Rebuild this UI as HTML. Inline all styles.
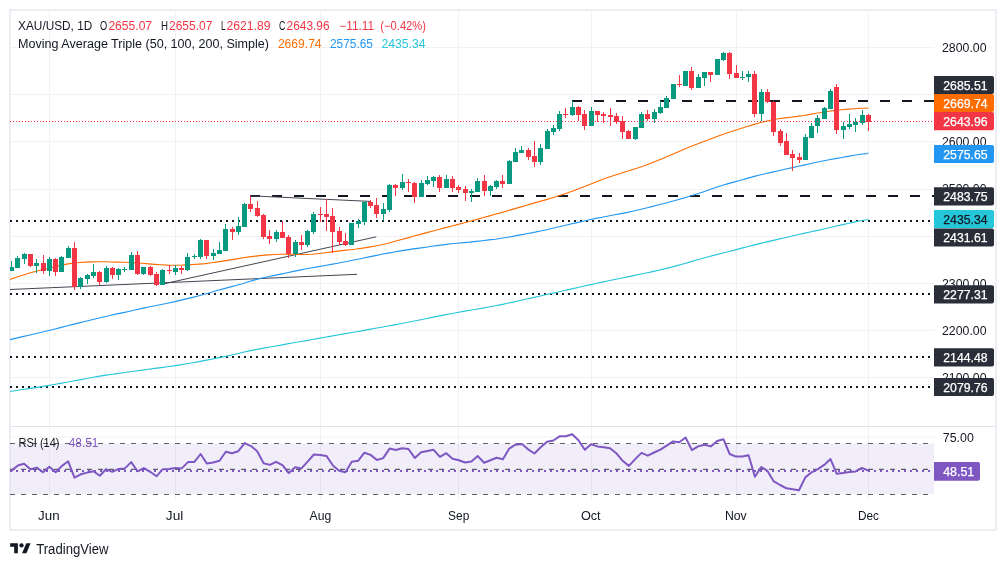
<!DOCTYPE html>
<html><head><meta charset="utf-8"><title>XAU/USD chart</title>
<style>html,body{margin:0;padding:0;background:#fff}svg{display:block}</style></head>
<body>
<svg width="1006" height="567" viewBox="0 0 1006 567" font-family='"Liberation Sans", sans-serif'>
<rect width="1006" height="567" fill="#fff"/>
<defs><clipPath id="cm"><rect x="10" y="10" width="924" height="416.5"/></clipPath><clipPath id="cr"><rect x="10" y="427" width="924" height="73"/></clipPath></defs>
<line x1="49.5" y1="11" x2="49.5" y2="500" stroke="#f2f2f5" stroke-width="1"/>
<line x1="175.5" y1="11" x2="175.5" y2="500" stroke="#f2f2f5" stroke-width="1"/>
<line x1="320.5" y1="11" x2="320.5" y2="500" stroke="#f2f2f5" stroke-width="1"/>
<line x1="458.5" y1="11" x2="458.5" y2="500" stroke="#f2f2f5" stroke-width="1"/>
<line x1="591.5" y1="11" x2="591.5" y2="500" stroke="#f2f2f5" stroke-width="1"/>
<line x1="736.5" y1="11" x2="736.5" y2="500" stroke="#f2f2f5" stroke-width="1"/>
<line x1="868.5" y1="11" x2="868.5" y2="500" stroke="#f2f2f5" stroke-width="1"/>
<line x1="11" y1="47.5" x2="934" y2="47.5" stroke="#f2f2f5" stroke-width="1"/>
<line x1="11" y1="94.5" x2="934" y2="94.5" stroke="#f2f2f5" stroke-width="1"/>
<line x1="11" y1="141.5" x2="934" y2="141.5" stroke="#f2f2f5" stroke-width="1"/>
<line x1="11" y1="189.5" x2="934" y2="189.5" stroke="#f2f2f5" stroke-width="1"/>
<line x1="11" y1="236.5" x2="934" y2="236.5" stroke="#f2f2f5" stroke-width="1"/>
<line x1="11" y1="283.5" x2="934" y2="283.5" stroke="#f2f2f5" stroke-width="1"/>
<line x1="11" y1="330.5" x2="934" y2="330.5" stroke="#f2f2f5" stroke-width="1"/>
<line x1="11" y1="377.5" x2="934" y2="377.5" stroke="#f2f2f5" stroke-width="1"/>
<line x1="11" y1="437" x2="934" y2="437" stroke="#f2f2f5" stroke-width="1"/>
<rect x="10" y="10" width="986" height="520" fill="none" stroke="#eceef4" stroke-width="2"/>
<line x1="10" y1="426.5" x2="995" y2="426.5" stroke="#e0e3eb" stroke-width="1"/>
<rect x="10" y="443.4" width="924" height="50.9" fill="#7e57c2" fill-opacity="0.1"/>
<g clip-path="url(#cm)">
<line x1="250" y1="196" x2="934" y2="196" stroke="#131722" stroke-width="2" stroke-dasharray="10 12"/>
<line x1="572" y1="101" x2="934" y2="101" stroke="#131722" stroke-width="2" stroke-dasharray="10 12"/>
<line x1="10" y1="221" x2="934" y2="221" stroke="#131722" stroke-width="2" stroke-dasharray="2 4"/>
<line x1="10" y1="294" x2="934" y2="294" stroke="#131722" stroke-width="2" stroke-dasharray="2 4"/>
<line x1="10" y1="357" x2="934" y2="357" stroke="#131722" stroke-width="2" stroke-dasharray="2 4"/>
<line x1="10" y1="387" x2="934" y2="387" stroke="#131722" stroke-width="2" stroke-dasharray="2 4"/>
<line x1="10" y1="289.5" x2="357" y2="274.3" stroke="#434651" stroke-width="1"/>
<line x1="163" y1="284" x2="376.3" y2="236.8" stroke="#434651" stroke-width="1"/>
<line x1="250.3" y1="195.8" x2="370.4" y2="201.4" stroke="#434651" stroke-width="1"/>
<polyline points="10.0,391.5 16.3,390.5 22.6,389.5 28.9,388.6 35.2,387.6 41.5,386.6 47.8,385.6 54.1,384.5 60.4,383.4 66.7,382.2 73.0,381.0 79.3,379.9 85.6,378.7 91.9,377.5 98.2,376.4 104.5,375.4 110.8,374.5 117.1,373.6 123.4,372.7 129.7,371.8 136.0,371.0 142.3,370.1 148.6,369.2 154.9,368.4 161.2,367.6 167.5,366.7 173.8,365.9 180.1,364.9 186.4,363.8 192.7,362.7 199.0,361.6 205.3,360.4 211.6,359.2 217.9,357.9 224.2,356.6 230.5,355.2 236.8,353.7 243.1,352.3 249.4,350.9 255.7,349.6 262.0,348.4 268.3,347.3 274.6,346.2 280.9,345.1 287.2,343.9 293.5,342.8 299.8,341.7 306.1,340.6 312.4,339.5 318.7,338.4 325.0,337.3 331.3,336.1 337.6,335.0 343.9,333.9 350.2,332.8 356.5,331.7 362.8,330.6 369.1,329.4 375.4,328.3 381.7,327.2 388.0,326.0 394.3,324.9 400.6,323.7 406.9,322.5 413.2,321.2 419.5,320.0 425.8,318.7 432.1,317.4 438.4,316.1 444.7,314.9 451.0,313.7 457.3,312.5 463.6,311.4 469.9,310.3 476.2,309.2 482.5,308.1 488.8,307.0 495.1,305.8 501.4,304.6 507.7,303.3 514.0,301.9 520.3,300.5 526.6,299.0 532.9,297.6 539.2,296.2 545.5,294.8 551.8,293.4 558.1,292.0 564.4,290.5 570.7,289.1 577.0,287.7 583.3,286.3 589.6,284.9 595.9,283.5 602.2,282.1 608.5,280.8 614.8,279.5 621.1,278.2 627.4,276.9 633.7,275.6 640.0,274.3 646.3,273.0 652.6,271.6 658.9,270.2 665.2,268.6 671.5,267.1 677.8,265.4 684.1,263.7 690.4,261.9 696.7,260.0 703.0,258.2 709.3,256.5 715.6,254.9 721.9,253.3 728.2,251.7 734.5,250.1 740.8,248.4 747.1,246.7 753.4,245.1 759.7,243.6 766.0,242.1 772.3,240.6 778.6,239.1 784.9,237.7 791.2,236.3 797.5,234.8 803.8,233.4 810.1,232.0 816.4,230.6 822.7,229.2 829.0,227.7 835.3,226.3 841.6,224.9 847.9,223.5 854.2,222.1 860.5,220.8 866.8,219.7 868.4,219.0" fill="none" stroke="#26c6da" stroke-width="1.1" stroke-linejoin="round"/>
<polyline points="10.0,339.6 16.3,338.1 22.6,336.6 28.9,335.2 35.2,333.7 41.5,332.2 47.8,330.7 54.1,329.2 60.4,327.6 66.7,326.0 73.0,324.4 79.3,322.9 85.6,321.3 91.9,319.7 98.2,318.2 104.5,316.7 110.8,315.3 117.1,313.9 123.4,312.6 129.7,311.2 136.0,309.8 142.3,308.4 148.6,307.0 154.9,305.7 161.2,304.5 167.5,303.2 173.8,301.9 180.1,300.4 186.4,298.9 192.7,297.4 199.0,295.7 205.3,294.0 211.6,292.2 217.9,290.3 224.2,288.6 230.5,286.9 236.8,285.3 243.1,283.5 249.4,281.5 255.7,279.6 262.0,278.0 268.3,276.7 274.6,275.4 280.9,274.1 287.2,272.8 293.5,271.4 299.8,270.1 306.1,268.8 312.4,267.7 318.7,266.6 325.0,265.5 331.3,264.4 337.6,263.2 343.9,262.0 350.2,260.8 356.5,259.5 362.8,258.2 369.1,256.9 375.4,255.6 381.7,254.3 388.0,253.1 394.3,252.0 400.6,250.9 406.9,249.9 413.2,248.9 419.5,248.1 425.8,247.2 432.1,246.3 438.4,245.4 444.7,244.6 451.0,243.8 457.3,243.2 463.6,242.6 469.9,242.1 476.2,241.4 482.5,240.7 488.8,239.9 495.1,239.2 501.4,238.3 507.7,237.3 514.0,236.1 520.3,234.9 526.6,233.7 532.9,232.6 539.2,231.3 545.5,230.0 551.8,228.5 558.1,227.0 564.4,225.5 570.7,224.0 577.0,222.6 583.3,221.2 589.6,219.8 595.9,218.4 602.2,217.2 608.5,216.0 614.8,214.8 621.1,213.6 627.4,212.4 633.7,211.0 640.0,209.5 646.3,208.0 652.6,206.4 658.9,204.8 665.2,203.2 671.5,201.5 677.8,199.7 684.1,197.9 690.4,195.9 696.7,193.9 703.0,191.9 709.3,189.8 715.6,187.6 721.9,185.5 728.2,183.6 734.5,181.9 740.8,180.2 747.1,178.4 753.4,176.6 759.7,175.0 766.0,173.5 772.3,172.1 778.6,170.7 784.9,169.3 791.2,167.9 797.5,166.5 803.8,165.1 810.1,163.7 816.4,162.3 822.7,161.0 829.0,159.7 835.3,158.6 841.6,157.5 847.9,156.4 854.2,155.3 860.5,154.3 866.8,153.6 868.4,153.0" fill="none" stroke="#2196f3" stroke-width="1.1" stroke-linejoin="round"/>
<polyline points="10.0,279.4 16.3,277.2 22.6,275.2 28.9,273.3 35.2,271.5 41.5,270.0 47.8,268.5 54.1,266.9 60.4,265.4 66.7,264.1 73.0,263.1 79.3,262.5 85.6,262.1 91.9,261.9 98.2,261.8 104.5,261.8 110.8,262.0 117.1,262.1 123.4,262.3 129.7,262.5 136.0,262.9 142.3,263.3 148.6,263.9 154.9,264.4 161.2,264.8 167.5,265.1 173.8,265.2 180.1,265.2 186.4,264.9 192.7,264.5 199.0,264.1 205.3,263.6 211.6,262.8 217.9,261.9 224.2,260.9 230.5,259.9 236.8,258.9 243.1,257.8 249.4,256.9 255.7,256.1 262.0,255.4 268.3,254.9 274.6,254.5 280.9,254.3 287.2,254.3 293.5,254.3 299.8,254.5 306.1,254.5 312.4,254.2 318.7,253.5 325.0,252.7 331.3,251.9 337.6,251.1 343.9,250.4 350.2,249.7 356.5,249.0 362.8,248.1 369.1,247.1 375.4,246.0 381.7,244.8 388.0,243.3 394.3,241.5 400.6,239.8 406.9,238.1 413.2,236.3 419.5,234.6 425.8,232.9 432.1,231.2 438.4,229.5 444.7,227.9 451.0,226.3 457.3,224.6 463.6,223.0 469.9,221.3 476.2,219.6 482.5,217.8 488.8,216.1 495.1,214.3 501.4,212.6 507.7,210.7 514.0,208.9 520.3,207.1 526.6,205.2 532.9,203.4 539.2,201.6 545.5,199.9 551.8,198.0 558.1,196.0 564.4,193.9 570.7,191.7 577.0,189.4 583.3,187.0 589.6,184.5 595.9,182.0 602.2,179.6 608.5,177.3 614.8,175.2 621.1,173.2 627.4,171.2 633.7,169.3 640.0,167.3 646.3,165.0 652.6,162.5 658.9,160.0 665.2,157.4 671.5,154.7 677.8,152.0 684.1,149.2 690.4,146.6 696.7,144.2 703.0,141.8 709.3,139.4 715.6,137.0 721.9,134.7 728.2,132.5 734.5,130.5 740.8,128.5 747.1,126.5 753.4,124.6 759.7,122.8 766.0,121.2 772.3,119.8 778.6,118.7 784.9,117.9 791.2,117.2 797.5,116.4 803.8,115.5 810.1,114.4 816.4,113.3 822.7,112.2 829.0,111.2 835.3,110.4 841.6,109.7 847.9,109.1 854.2,108.7 860.5,108.3 866.8,108.1 868.4,108.0" fill="none" stroke="#ff6d00" stroke-width="1.1" stroke-linejoin="round"/>
<line x1="11.5" y1="261" x2="11.5" y2="271" stroke="#089981" stroke-width="1"/>
<rect x="9.0" y="267" width="5" height="4" fill="#089981"/>
<line x1="17.5" y1="256" x2="17.5" y2="268" stroke="#089981" stroke-width="1"/>
<rect x="15.0" y="258" width="5" height="10" fill="#089981"/>
<line x1="24.5" y1="253" x2="24.5" y2="264" stroke="#089981" stroke-width="1"/>
<rect x="22.0" y="254" width="5" height="5" fill="#089981"/>
<line x1="30.5" y1="254" x2="30.5" y2="267" stroke="#f23645" stroke-width="1"/>
<rect x="28.0" y="254" width="5" height="12" fill="#f23645"/>
<line x1="36.5" y1="259" x2="36.5" y2="273" stroke="#089981" stroke-width="1"/>
<rect x="34.0" y="263" width="5" height="3" fill="#089981"/>
<line x1="43.5" y1="255" x2="43.5" y2="274" stroke="#f23645" stroke-width="1"/>
<rect x="41.0" y="263" width="5" height="8" fill="#f23645"/>
<line x1="49.5" y1="257" x2="49.5" y2="276" stroke="#089981" stroke-width="1"/>
<rect x="47.0" y="259" width="5" height="12" fill="#089981"/>
<line x1="55.5" y1="258" x2="55.5" y2="276" stroke="#f23645" stroke-width="1"/>
<rect x="53.0" y="259" width="5" height="13" fill="#f23645"/>
<line x1="61.5" y1="256" x2="61.5" y2="272" stroke="#089981" stroke-width="1"/>
<rect x="59.0" y="257" width="5" height="15" fill="#089981"/>
<line x1="68.5" y1="246" x2="68.5" y2="258" stroke="#089981" stroke-width="1"/>
<rect x="66.0" y="248" width="5" height="10" fill="#089981"/>
<line x1="74.5" y1="242" x2="74.5" y2="290" stroke="#f23645" stroke-width="1"/>
<rect x="72.0" y="248" width="5" height="39" fill="#f23645"/>
<line x1="80.5" y1="277" x2="80.5" y2="289" stroke="#089981" stroke-width="1"/>
<rect x="78.0" y="278" width="5" height="9" fill="#089981"/>
<line x1="87.5" y1="274" x2="87.5" y2="284" stroke="#089981" stroke-width="1"/>
<rect x="85.0" y="275" width="5" height="4" fill="#089981"/>
<line x1="93.5" y1="264" x2="93.5" y2="278" stroke="#089981" stroke-width="1"/>
<rect x="91.0" y="272" width="5" height="4" fill="#089981"/>
<line x1="99.5" y1="271" x2="99.5" y2="285" stroke="#f23645" stroke-width="1"/>
<rect x="97.0" y="272" width="5" height="10" fill="#f23645"/>
<line x1="106.5" y1="266" x2="106.5" y2="283" stroke="#089981" stroke-width="1"/>
<rect x="104.0" y="268" width="5" height="14" fill="#089981"/>
<line x1="112.5" y1="267" x2="112.5" y2="279" stroke="#f23645" stroke-width="1"/>
<rect x="110.0" y="268" width="5" height="7" fill="#f23645"/>
<line x1="118.5" y1="268" x2="118.5" y2="280" stroke="#089981" stroke-width="1"/>
<rect x="116.0" y="269" width="5" height="6" fill="#089981"/>
<line x1="124.5" y1="267" x2="124.5" y2="272" stroke="#089981" stroke-width="1"/>
<rect x="122.0" y="269" width="5" height="1" fill="#089981"/>
<line x1="131.5" y1="252" x2="131.5" y2="270" stroke="#089981" stroke-width="1"/>
<rect x="129.0" y="255" width="5" height="15" fill="#089981"/>
<line x1="137.5" y1="251" x2="137.5" y2="275" stroke="#f23645" stroke-width="1"/>
<rect x="135.0" y="255" width="5" height="19" fill="#f23645"/>
<line x1="143.5" y1="267" x2="143.5" y2="275" stroke="#089981" stroke-width="1"/>
<rect x="141.0" y="267" width="5" height="7" fill="#089981"/>
<line x1="150.5" y1="266" x2="150.5" y2="276" stroke="#f23645" stroke-width="1"/>
<rect x="148.0" y="267" width="5" height="8" fill="#f23645"/>
<line x1="156.5" y1="272" x2="156.5" y2="286" stroke="#f23645" stroke-width="1"/>
<rect x="154.0" y="274" width="5" height="11" fill="#f23645"/>
<line x1="162.5" y1="269" x2="162.5" y2="285" stroke="#089981" stroke-width="1"/>
<rect x="160.0" y="270" width="5" height="15" fill="#089981"/>
<line x1="169.5" y1="265" x2="169.5" y2="274" stroke="#f23645" stroke-width="1"/>
<rect x="167.0" y="270" width="5" height="1" fill="#f23645"/>
<line x1="175.5" y1="265" x2="175.5" y2="275" stroke="#089981" stroke-width="1"/>
<rect x="173.0" y="268" width="5" height="4" fill="#089981"/>
<line x1="181.5" y1="266" x2="181.5" y2="274" stroke="#f23645" stroke-width="1"/>
<rect x="179.0" y="268" width="5" height="2" fill="#f23645"/>
<line x1="187.5" y1="253" x2="187.5" y2="271" stroke="#089981" stroke-width="1"/>
<rect x="185.0" y="257" width="5" height="13" fill="#089981"/>
<line x1="194.5" y1="254" x2="194.5" y2="259" stroke="#089981" stroke-width="1"/>
<rect x="192.0" y="256" width="5" height="1" fill="#089981"/>
<line x1="200.5" y1="239" x2="200.5" y2="259" stroke="#089981" stroke-width="1"/>
<rect x="198.0" y="240" width="5" height="17" fill="#089981"/>
<line x1="206.5" y1="240" x2="206.5" y2="259" stroke="#f23645" stroke-width="1"/>
<rect x="204.0" y="240" width="5" height="16" fill="#f23645"/>
<line x1="213.5" y1="249" x2="213.5" y2="260" stroke="#089981" stroke-width="1"/>
<rect x="211.0" y="253" width="5" height="3" fill="#089981"/>
<line x1="219.5" y1="242" x2="219.5" y2="254" stroke="#089981" stroke-width="1"/>
<rect x="217.0" y="250" width="5" height="4" fill="#089981"/>
<line x1="225.5" y1="224" x2="225.5" y2="251" stroke="#089981" stroke-width="1"/>
<rect x="223.0" y="229" width="5" height="22" fill="#089981"/>
<line x1="232.5" y1="227" x2="232.5" y2="240" stroke="#f23645" stroke-width="1"/>
<rect x="230.0" y="229" width="5" height="3" fill="#f23645"/>
<line x1="238.5" y1="217" x2="238.5" y2="235" stroke="#089981" stroke-width="1"/>
<rect x="236.0" y="226" width="5" height="6" fill="#089981"/>
<line x1="244.5" y1="203" x2="244.5" y2="227" stroke="#089981" stroke-width="1"/>
<rect x="242.0" y="204" width="5" height="23" fill="#089981"/>
<line x1="250.5" y1="196" x2="250.5" y2="212" stroke="#f23645" stroke-width="1"/>
<rect x="248.0" y="204" width="5" height="5" fill="#f23645"/>
<line x1="257.5" y1="201" x2="257.5" y2="217" stroke="#f23645" stroke-width="1"/>
<rect x="255.0" y="208" width="5" height="8" fill="#f23645"/>
<line x1="263.5" y1="214" x2="263.5" y2="239" stroke="#f23645" stroke-width="1"/>
<rect x="261.0" y="215" width="5" height="22" fill="#f23645"/>
<line x1="269.5" y1="230" x2="269.5" y2="244" stroke="#f23645" stroke-width="1"/>
<rect x="267.0" y="236" width="5" height="3" fill="#f23645"/>
<line x1="276.5" y1="230" x2="276.5" y2="242" stroke="#089981" stroke-width="1"/>
<rect x="274.0" y="232" width="5" height="7" fill="#089981"/>
<line x1="282.5" y1="221" x2="282.5" y2="238" stroke="#f23645" stroke-width="1"/>
<rect x="280.0" y="232" width="5" height="6" fill="#f23645"/>
<line x1="288.5" y1="235" x2="288.5" y2="258" stroke="#f23645" stroke-width="1"/>
<rect x="286.0" y="237" width="5" height="17" fill="#f23645"/>
<line x1="295.5" y1="240" x2="295.5" y2="257" stroke="#089981" stroke-width="1"/>
<rect x="293.0" y="242" width="5" height="12" fill="#089981"/>
<line x1="301.5" y1="235" x2="301.5" y2="250" stroke="#f23645" stroke-width="1"/>
<rect x="299.0" y="242" width="5" height="3" fill="#f23645"/>
<line x1="307.5" y1="230" x2="307.5" y2="247" stroke="#089981" stroke-width="1"/>
<rect x="305.0" y="231" width="5" height="14" fill="#089981"/>
<line x1="313.5" y1="212" x2="313.5" y2="234" stroke="#089981" stroke-width="1"/>
<rect x="311.0" y="214" width="5" height="18" fill="#089981"/>
<line x1="320.5" y1="207" x2="320.5" y2="222" stroke="#f23645" stroke-width="1"/>
<rect x="318.0" y="214" width="5" height="1" fill="#f23645"/>
<line x1="326.5" y1="199" x2="326.5" y2="231" stroke="#f23645" stroke-width="1"/>
<rect x="324.0" y="214" width="5" height="3" fill="#f23645"/>
<line x1="332.5" y1="208" x2="332.5" y2="253" stroke="#f23645" stroke-width="1"/>
<rect x="330.0" y="216" width="5" height="16" fill="#f23645"/>
<line x1="339.5" y1="227" x2="339.5" y2="245" stroke="#f23645" stroke-width="1"/>
<rect x="337.0" y="231" width="5" height="11" fill="#f23645"/>
<line x1="345.5" y1="233" x2="345.5" y2="246" stroke="#f23645" stroke-width="1"/>
<rect x="343.0" y="241" width="5" height="4" fill="#f23645"/>
<line x1="351.5" y1="223" x2="351.5" y2="245" stroke="#089981" stroke-width="1"/>
<rect x="349.0" y="223" width="5" height="22" fill="#089981"/>
<line x1="358.5" y1="219" x2="358.5" y2="228" stroke="#089981" stroke-width="1"/>
<rect x="356.0" y="221" width="5" height="3" fill="#089981"/>
<line x1="364.5" y1="201" x2="364.5" y2="225" stroke="#089981" stroke-width="1"/>
<rect x="362.0" y="202" width="5" height="20" fill="#089981"/>
<line x1="370.5" y1="200" x2="370.5" y2="208" stroke="#f23645" stroke-width="1"/>
<rect x="368.0" y="202" width="5" height="4" fill="#f23645"/>
<line x1="376.5" y1="198" x2="376.5" y2="218" stroke="#f23645" stroke-width="1"/>
<rect x="374.0" y="205" width="5" height="9" fill="#f23645"/>
<line x1="383.5" y1="203" x2="383.5" y2="221" stroke="#089981" stroke-width="1"/>
<rect x="381.0" y="209" width="5" height="5" fill="#089981"/>
<line x1="389.5" y1="184" x2="389.5" y2="212" stroke="#089981" stroke-width="1"/>
<rect x="387.0" y="185" width="5" height="25" fill="#089981"/>
<line x1="395.5" y1="184" x2="395.5" y2="196" stroke="#f23645" stroke-width="1"/>
<rect x="393.0" y="185" width="5" height="3" fill="#f23645"/>
<line x1="402.5" y1="174" x2="402.5" y2="190" stroke="#089981" stroke-width="1"/>
<rect x="400.0" y="182" width="5" height="6" fill="#089981"/>
<line x1="408.5" y1="179" x2="408.5" y2="192" stroke="#f23645" stroke-width="1"/>
<rect x="406.0" y="182" width="5" height="1" fill="#f23645"/>
<line x1="414.5" y1="182" x2="414.5" y2="203" stroke="#f23645" stroke-width="1"/>
<rect x="412.0" y="183" width="5" height="14" fill="#f23645"/>
<line x1="421.5" y1="180" x2="421.5" y2="197" stroke="#089981" stroke-width="1"/>
<rect x="419.0" y="183" width="5" height="14" fill="#089981"/>
<line x1="427.5" y1="176" x2="427.5" y2="185" stroke="#089981" stroke-width="1"/>
<rect x="425.0" y="180" width="5" height="4" fill="#089981"/>
<line x1="433.5" y1="176" x2="433.5" y2="187" stroke="#089981" stroke-width="1"/>
<rect x="431.0" y="177" width="5" height="4" fill="#089981"/>
<line x1="439.5" y1="175" x2="439.5" y2="192" stroke="#f23645" stroke-width="1"/>
<rect x="437.0" y="177" width="5" height="11" fill="#f23645"/>
<line x1="446.5" y1="175" x2="446.5" y2="188" stroke="#089981" stroke-width="1"/>
<rect x="444.0" y="179" width="5" height="9" fill="#089981"/>
<line x1="452.5" y1="176" x2="452.5" y2="192" stroke="#f23645" stroke-width="1"/>
<rect x="450.0" y="179" width="5" height="9" fill="#f23645"/>
<line x1="458.5" y1="185" x2="458.5" y2="193" stroke="#f23645" stroke-width="1"/>
<rect x="456.0" y="187" width="5" height="3" fill="#f23645"/>
<line x1="465.5" y1="186" x2="465.5" y2="201" stroke="#f23645" stroke-width="1"/>
<rect x="463.0" y="189" width="5" height="4" fill="#f23645"/>
<line x1="471.5" y1="189" x2="471.5" y2="202" stroke="#089981" stroke-width="1"/>
<rect x="469.0" y="191" width="5" height="2" fill="#089981"/>
<line x1="477.5" y1="178" x2="477.5" y2="192" stroke="#089981" stroke-width="1"/>
<rect x="475.0" y="181" width="5" height="11" fill="#089981"/>
<line x1="484.5" y1="175" x2="484.5" y2="196" stroke="#f23645" stroke-width="1"/>
<rect x="482.0" y="181" width="5" height="10" fill="#f23645"/>
<line x1="490.5" y1="185" x2="490.5" y2="196" stroke="#089981" stroke-width="1"/>
<rect x="488.0" y="186" width="5" height="5" fill="#089981"/>
<line x1="496.5" y1="180" x2="496.5" y2="189" stroke="#089981" stroke-width="1"/>
<rect x="494.0" y="181" width="5" height="6" fill="#089981"/>
<line x1="502.5" y1="175" x2="502.5" y2="188" stroke="#f23645" stroke-width="1"/>
<rect x="500.0" y="181" width="5" height="3" fill="#f23645"/>
<line x1="509.5" y1="160" x2="509.5" y2="184" stroke="#089981" stroke-width="1"/>
<rect x="507.0" y="161" width="5" height="23" fill="#089981"/>
<line x1="515.5" y1="148" x2="515.5" y2="162" stroke="#089981" stroke-width="1"/>
<rect x="513.0" y="152" width="5" height="10" fill="#089981"/>
<line x1="521.5" y1="146" x2="521.5" y2="153" stroke="#089981" stroke-width="1"/>
<rect x="519.0" y="150" width="5" height="3" fill="#089981"/>
<line x1="528.5" y1="148" x2="528.5" y2="160" stroke="#f23645" stroke-width="1"/>
<rect x="526.0" y="150" width="5" height="7" fill="#f23645"/>
<line x1="534.5" y1="141" x2="534.5" y2="167" stroke="#f23645" stroke-width="1"/>
<rect x="532.0" y="156" width="5" height="6" fill="#f23645"/>
<line x1="540.5" y1="144" x2="540.5" y2="165" stroke="#089981" stroke-width="1"/>
<rect x="538.0" y="148" width="5" height="14" fill="#089981"/>
<line x1="547.5" y1="129" x2="547.5" y2="149" stroke="#089981" stroke-width="1"/>
<rect x="545.0" y="131" width="5" height="18" fill="#089981"/>
<line x1="553.5" y1="125" x2="553.5" y2="135" stroke="#089981" stroke-width="1"/>
<rect x="551.0" y="128" width="5" height="4" fill="#089981"/>
<line x1="559.5" y1="111" x2="559.5" y2="131" stroke="#089981" stroke-width="1"/>
<rect x="557.0" y="114" width="5" height="15" fill="#089981"/>
<line x1="565.5" y1="108" x2="565.5" y2="118" stroke="#f23645" stroke-width="1"/>
<rect x="563.0" y="114" width="5" height="1" fill="#f23645"/>
<line x1="572.5" y1="101" x2="572.5" y2="116" stroke="#089981" stroke-width="1"/>
<rect x="570.0" y="107" width="5" height="8" fill="#089981"/>
<line x1="578.5" y1="106" x2="578.5" y2="121" stroke="#f23645" stroke-width="1"/>
<rect x="576.0" y="107" width="5" height="8" fill="#f23645"/>
<line x1="584.5" y1="110" x2="584.5" y2="130" stroke="#f23645" stroke-width="1"/>
<rect x="582.0" y="114" width="5" height="12" fill="#f23645"/>
<line x1="591.5" y1="107" x2="591.5" y2="126" stroke="#089981" stroke-width="1"/>
<rect x="589.0" y="111" width="5" height="15" fill="#089981"/>
<line x1="597.5" y1="111" x2="597.5" y2="122" stroke="#f23645" stroke-width="1"/>
<rect x="595.0" y="111" width="5" height="4" fill="#f23645"/>
<line x1="603.5" y1="112" x2="603.5" y2="123" stroke="#f23645" stroke-width="1"/>
<rect x="601.0" y="114" width="5" height="2" fill="#f23645"/>
<line x1="610.5" y1="108" x2="610.5" y2="126" stroke="#f23645" stroke-width="1"/>
<rect x="608.0" y="115" width="5" height="2" fill="#f23645"/>
<line x1="616.5" y1="113" x2="616.5" y2="124" stroke="#f23645" stroke-width="1"/>
<rect x="614.0" y="116" width="5" height="6" fill="#f23645"/>
<line x1="622.5" y1="116" x2="622.5" y2="139" stroke="#f23645" stroke-width="1"/>
<rect x="620.0" y="121" width="5" height="11" fill="#f23645"/>
<line x1="628.5" y1="130" x2="628.5" y2="139" stroke="#f23645" stroke-width="1"/>
<rect x="626.0" y="131" width="5" height="8" fill="#f23645"/>
<line x1="635.5" y1="127" x2="635.5" y2="140" stroke="#089981" stroke-width="1"/>
<rect x="633.0" y="127" width="5" height="12" fill="#089981"/>
<line x1="641.5" y1="112" x2="641.5" y2="128" stroke="#089981" stroke-width="1"/>
<rect x="639.0" y="114" width="5" height="14" fill="#089981"/>
<line x1="647.5" y1="110" x2="647.5" y2="121" stroke="#f23645" stroke-width="1"/>
<rect x="645.0" y="114" width="5" height="5" fill="#f23645"/>
<line x1="654.5" y1="109" x2="654.5" y2="123" stroke="#089981" stroke-width="1"/>
<rect x="652.0" y="112" width="5" height="7" fill="#089981"/>
<line x1="660.5" y1="101" x2="660.5" y2="114" stroke="#089981" stroke-width="1"/>
<rect x="658.0" y="107" width="5" height="6" fill="#089981"/>
<line x1="666.5" y1="96" x2="666.5" y2="108" stroke="#089981" stroke-width="1"/>
<rect x="664.0" y="98" width="5" height="10" fill="#089981"/>
<line x1="673.5" y1="84" x2="673.5" y2="99" stroke="#089981" stroke-width="1"/>
<rect x="671.0" y="84" width="5" height="15" fill="#089981"/>
<line x1="679.5" y1="75" x2="679.5" y2="87" stroke="#f23645" stroke-width="1"/>
<rect x="677.0" y="84" width="5" height="1" fill="#f23645"/>
<line x1="685.5" y1="71" x2="685.5" y2="86" stroke="#089981" stroke-width="1"/>
<rect x="683.0" y="71" width="5" height="15" fill="#089981"/>
<line x1="691.5" y1="67" x2="691.5" y2="90" stroke="#f23645" stroke-width="1"/>
<rect x="689.0" y="71" width="5" height="17" fill="#f23645"/>
<line x1="698.5" y1="74" x2="698.5" y2="88" stroke="#089981" stroke-width="1"/>
<rect x="696.0" y="77" width="5" height="11" fill="#089981"/>
<line x1="704.5" y1="72" x2="704.5" y2="86" stroke="#089981" stroke-width="1"/>
<rect x="702.0" y="72" width="5" height="6" fill="#089981"/>
<line x1="710.5" y1="72" x2="710.5" y2="82" stroke="#f23645" stroke-width="1"/>
<rect x="708.0" y="72" width="5" height="3" fill="#f23645"/>
<line x1="717.5" y1="59" x2="717.5" y2="75" stroke="#089981" stroke-width="1"/>
<rect x="715.0" y="59" width="5" height="16" fill="#089981"/>
<line x1="723.5" y1="52" x2="723.5" y2="61" stroke="#089981" stroke-width="1"/>
<rect x="721.0" y="53" width="5" height="7" fill="#089981"/>
<line x1="729.5" y1="52" x2="729.5" y2="79" stroke="#f23645" stroke-width="1"/>
<rect x="727.0" y="53" width="5" height="21" fill="#f23645"/>
<line x1="736.5" y1="65" x2="736.5" y2="78" stroke="#f23645" stroke-width="1"/>
<rect x="734.0" y="73" width="5" height="5" fill="#f23645"/>
<line x1="742.5" y1="71" x2="742.5" y2="80" stroke="#089981" stroke-width="1"/>
<rect x="740.0" y="77" width="5" height="1" fill="#089981"/>
<line x1="748.5" y1="71" x2="748.5" y2="82" stroke="#089981" stroke-width="1"/>
<rect x="746.0" y="74" width="5" height="3" fill="#089981"/>
<line x1="754.5" y1="71" x2="754.5" y2="117" stroke="#f23645" stroke-width="1"/>
<rect x="752.0" y="74" width="5" height="40" fill="#f23645"/>
<line x1="761.5" y1="89" x2="761.5" y2="121" stroke="#089981" stroke-width="1"/>
<rect x="759.0" y="92" width="5" height="22" fill="#089981"/>
<line x1="767.5" y1="89" x2="767.5" y2="103" stroke="#f23645" stroke-width="1"/>
<rect x="765.0" y="92" width="5" height="10" fill="#f23645"/>
<line x1="773.5" y1="101" x2="773.5" y2="136" stroke="#f23645" stroke-width="1"/>
<rect x="771.0" y="102" width="5" height="30" fill="#f23645"/>
<line x1="780.5" y1="129" x2="780.5" y2="146" stroke="#f23645" stroke-width="1"/>
<rect x="778.0" y="131" width="5" height="12" fill="#f23645"/>
<line x1="786.5" y1="133" x2="786.5" y2="155" stroke="#f23645" stroke-width="1"/>
<rect x="784.0" y="141" width="5" height="14" fill="#f23645"/>
<line x1="792.5" y1="150" x2="792.5" y2="171" stroke="#f23645" stroke-width="1"/>
<rect x="790.0" y="154" width="5" height="4" fill="#f23645"/>
<line x1="799.5" y1="153" x2="799.5" y2="163" stroke="#f23645" stroke-width="1"/>
<rect x="797.0" y="157" width="5" height="3" fill="#f23645"/>
<line x1="805.5" y1="134" x2="805.5" y2="160" stroke="#089981" stroke-width="1"/>
<rect x="803.0" y="137" width="5" height="23" fill="#089981"/>
<line x1="811.5" y1="123" x2="811.5" y2="138" stroke="#089981" stroke-width="1"/>
<rect x="809.0" y="126" width="5" height="12" fill="#089981"/>
<line x1="817.5" y1="115" x2="817.5" y2="133" stroke="#089981" stroke-width="1"/>
<rect x="815.0" y="118" width="5" height="8" fill="#089981"/>
<line x1="824.5" y1="107" x2="824.5" y2="119" stroke="#089981" stroke-width="1"/>
<rect x="822.0" y="108" width="5" height="11" fill="#089981"/>
<line x1="830.5" y1="89" x2="830.5" y2="109" stroke="#089981" stroke-width="1"/>
<rect x="828.0" y="91" width="5" height="18" fill="#089981"/>
<line x1="836.5" y1="84" x2="836.5" y2="134" stroke="#f23645" stroke-width="1"/>
<rect x="834.0" y="87" width="5" height="43" fill="#f23645"/>
<line x1="843.5" y1="122" x2="843.5" y2="139" stroke="#089981" stroke-width="1"/>
<rect x="841.0" y="126" width="5" height="4" fill="#089981"/>
<line x1="849.5" y1="114" x2="849.5" y2="129" stroke="#089981" stroke-width="1"/>
<rect x="847.0" y="124" width="5" height="3" fill="#089981"/>
<line x1="855.5" y1="118" x2="855.5" y2="132" stroke="#089981" stroke-width="1"/>
<rect x="853.0" y="122" width="5" height="3" fill="#089981"/>
<line x1="862.5" y1="110" x2="862.5" y2="125" stroke="#089981" stroke-width="1"/>
<rect x="860.0" y="115" width="5" height="8" fill="#089981"/>
<line x1="868.5" y1="114" x2="868.5" y2="131" stroke="#f23645" stroke-width="1"/>
<rect x="866.0" y="115" width="5" height="7" fill="#f23645"/>
<line x1="10" y1="121.5" x2="934" y2="121.5" stroke="#f23645" stroke-width="1" stroke-dasharray="1 2"/>
</g>
<g clip-path="url(#cr)">
<line x1="10" y1="443.5" x2="934" y2="443.5" stroke="#5d606b" stroke-width="1.2" stroke-dasharray="5 6"/>
<line x1="10" y1="494.5" x2="934" y2="494.5" stroke="#5d606b" stroke-width="1.2" stroke-dasharray="5 6"/>
<line x1="10" y1="469.3" x2="934" y2="469.3" stroke="#5d606b" stroke-width="1.2" stroke-dasharray="5 6"/>
<line x1="10" y1="471" x2="934" y2="471" stroke="#7e57c2" stroke-width="2" stroke-dasharray="2 4"/>
<polyline points="10.0,471.3 11.6,470.6 17.9,465.5 24.1,463.8 30.4,469.2 36.8,467.6 43.0,472.3 49.3,466.7 55.7,472.3 62.0,465.9 68.2,461.3 74.5,477.7 80.8,474.3 87.1,472.6 93.4,471.3 99.8,475.7 106.0,469.2 112.3,471.8 118.6,468.9 124.9,468.4 131.2,462.1 137.6,471.3 143.8,468.1 150.2,471.8 156.5,476.3 162.8,469.2 169.1,468.9 175.3,468.1 181.7,468.4 188.0,462.1 194.2,462.1 200.6,454.0 206.8,463.5 213.2,462.5 219.5,460.8 225.8,451.8 232.1,453.2 238.3,451.2 244.7,443.1 251.0,446.1 257.2,451.2 263.6,463.2 269.9,464.9 276.1,461.8 282.4,465.2 288.8,473.0 295.1,467.2 301.4,468.4 307.6,461.6 313.9,454.5 320.2,454.9 326.6,456.1 332.9,465.5 339.1,470.8 345.4,472.3 351.8,461.8 358.1,460.8 364.4,452.7 370.6,454.9 376.9,460.0 383.2,458.1 389.6,448.6 395.9,450.0 402.1,448.3 408.4,449.0 414.8,457.9 421.1,452.3 427.4,451.0 433.6,449.8 439.9,456.9 446.2,453.2 452.6,458.8 458.9,460.3 465.1,462.5 471.4,461.6 477.8,456.1 484.1,462.8 490.4,460.3 496.6,457.8 502.9,459.3 509.2,448.6 515.5,444.7 521.9,443.9 528.1,449.3 534.4,453.5 540.7,447.3 547.0,441.7 553.3,440.5 559.6,436.3 565.9,436.3 572.2,434.3 578.5,440.2 584.8,449.8 591.1,444.2 597.4,446.4 603.7,447.3 610.0,448.3 616.3,453.2 622.6,460.8 628.9,465.9 635.2,459.1 641.5,452.9 647.8,455.7 654.1,452.5 660.4,449.6 666.7,445.6 673.0,441.4 679.3,442.2 685.6,437.5 691.9,450.1 698.2,446.4 704.5,444.7 710.8,446.4 717.1,441.0 723.4,439.2 729.7,454.0 736.0,456.6 742.3,456.6 748.6,455.2 754.9,476.8 761.2,467.0 767.5,470.9 773.8,481.4 780.1,485.0 786.4,488.3 792.7,489.2 799.0,490.2 805.3,477.4 811.6,472.3 817.9,469.2 824.2,464.9 830.5,459.1 836.8,473.8 843.1,473.0 849.4,472.1 855.7,471.4 862.0,467.9 868.3,470.6" fill="none" stroke="#7e57c2" stroke-width="2" stroke-linejoin="round"/>
</g>
<text x="942" y="51.8" font-size="12" fill="#131722" text-anchor="start" textLength="44.5" lengthAdjust="spacingAndGlyphs">2800.00</text>
<text x="942" y="99.0" font-size="12" fill="#131722" text-anchor="start" textLength="44.5" lengthAdjust="spacingAndGlyphs">2700.00</text>
<text x="942" y="146.1" font-size="12" fill="#131722" text-anchor="start" textLength="44.5" lengthAdjust="spacingAndGlyphs">2600.00</text>
<text x="942" y="193.3" font-size="12" fill="#131722" text-anchor="start" textLength="44.5" lengthAdjust="spacingAndGlyphs">2500.00</text>
<text x="942" y="240.5" font-size="12" fill="#131722" text-anchor="start" textLength="44.5" lengthAdjust="spacingAndGlyphs">2400.00</text>
<text x="942" y="287.7" font-size="12" fill="#131722" text-anchor="start" textLength="44.5" lengthAdjust="spacingAndGlyphs">2300.00</text>
<text x="942" y="334.8" font-size="12" fill="#131722" text-anchor="start" textLength="44.5" lengthAdjust="spacingAndGlyphs">2200.00</text>
<text x="942" y="382.0" font-size="12" fill="#131722" text-anchor="start" textLength="44.5" lengthAdjust="spacingAndGlyphs">2100.00</text>
<text x="942.8" y="441.9" font-size="12" fill="#131722" text-anchor="start" textLength="31" lengthAdjust="spacingAndGlyphs">75.00</text>
<path d="M934 75.9h58.0a2 2 0 0 1 2 2v14.2a2 2 0 0 1 -2 2h-58.0z" fill="#2a2e39"/>
<text x="943.3" y="89.9" font-size="12" fill="#fff" text-anchor="start" stroke="#fff" stroke-width="0.25" textLength="44.2" lengthAdjust="spacingAndGlyphs">2685.51</text>
<path d="M934 93.9h58.0a2 2 0 0 1 2 2v14.2a2 2 0 0 1 -2 2h-58.0z" fill="#ff6d00"/>
<text x="943.3" y="107.9" font-size="12" fill="#fff" text-anchor="start" stroke="#fff" stroke-width="0.25" textLength="44.2" lengthAdjust="spacingAndGlyphs">2669.74</text>
<path d="M934 112.0h58.0a2 2 0 0 1 2 2v14.2a2 2 0 0 1 -2 2h-58.0z" fill="#f23645"/>
<text x="943.3" y="126.0" font-size="12" fill="#fff" text-anchor="start" stroke="#fff" stroke-width="0.25" textLength="44.2" lengthAdjust="spacingAndGlyphs">2643.96</text>
<path d="M934 144.9h58.0a2 2 0 0 1 2 2v14.2a2 2 0 0 1 -2 2h-58.0z" fill="#2196f3"/>
<text x="943.3" y="158.9" font-size="12" fill="#fff" text-anchor="start" stroke="#fff" stroke-width="0.25" textLength="44.2" lengthAdjust="spacingAndGlyphs">2575.65</text>
<path d="M934 187.2h58.0a2 2 0 0 1 2 2v14.2a2 2 0 0 1 -2 2h-58.0z" fill="#2a2e39"/>
<text x="943.3" y="201.2" font-size="12" fill="#fff" text-anchor="start" stroke="#fff" stroke-width="0.25" textLength="44.2" lengthAdjust="spacingAndGlyphs">2483.75</text>
<path d="M934 210.1h58.0a2 2 0 0 1 2 2v14.2a2 2 0 0 1 -2 2h-58.0z" fill="#26c6da"/>
<text x="943.3" y="224.1" font-size="12" fill="#131722" text-anchor="start" stroke="#131722" stroke-width="0.25" textLength="44.2" lengthAdjust="spacingAndGlyphs">2435.34</text>
<path d="M934 228.4h58.0a2 2 0 0 1 2 2v14.2a2 2 0 0 1 -2 2h-58.0z" fill="#2a2e39"/>
<text x="943.3" y="242.4" font-size="12" fill="#fff" text-anchor="start" stroke="#fff" stroke-width="0.25" textLength="44.2" lengthAdjust="spacingAndGlyphs">2431.61</text>
<path d="M934 285.2h58.0a2 2 0 0 1 2 2v14.2a2 2 0 0 1 -2 2h-58.0z" fill="#2a2e39"/>
<text x="943.3" y="299.2" font-size="12" fill="#fff" text-anchor="start" stroke="#fff" stroke-width="0.25" textLength="44.2" lengthAdjust="spacingAndGlyphs">2277.31</text>
<path d="M934 348.2h58.0a2 2 0 0 1 2 2v14.2a2 2 0 0 1 -2 2h-58.0z" fill="#2a2e39"/>
<text x="943.3" y="362.2" font-size="12" fill="#fff" text-anchor="start" stroke="#fff" stroke-width="0.25" textLength="44.2" lengthAdjust="spacingAndGlyphs">2144.48</text>
<path d="M934 377.9h58.0a2 2 0 0 1 2 2v14.2a2 2 0 0 1 -2 2h-58.0z" fill="#2a2e39"/>
<text x="943.3" y="391.9" font-size="12" fill="#fff" text-anchor="start" stroke="#fff" stroke-width="0.25" textLength="44.2" lengthAdjust="spacingAndGlyphs">2079.76</text>
<path d="M934 462h44a2 2 0 0 1 2 2v14.8a2 2 0 0 1 -2 2h-44z" fill="#7e57c2"/>
<text x="943.2" y="476.1" font-size="12" fill="#fff" text-anchor="start" stroke="#fff" stroke-width="0.25" textLength="31" lengthAdjust="spacingAndGlyphs">48.51</text>
<text x="38.1" y="519.9" font-size="12" fill="#131722" text-anchor="start" textLength="21.5" lengthAdjust="spacingAndGlyphs">Jun</text>
<text x="165.8" y="519.9" font-size="12" fill="#131722" text-anchor="start" textLength="17.5" lengthAdjust="spacingAndGlyphs">Jul</text>
<text x="309.5" y="519.9" font-size="12" fill="#131722" text-anchor="start" textLength="21.7" lengthAdjust="spacingAndGlyphs">Aug</text>
<text x="448.0" y="519.9" font-size="12" fill="#131722" text-anchor="start" textLength="21.3" lengthAdjust="spacingAndGlyphs">Sep</text>
<text x="580.9" y="519.9" font-size="12" fill="#131722" text-anchor="start" textLength="19.7" lengthAdjust="spacingAndGlyphs">Oct</text>
<text x="724.9" y="519.9" font-size="12" fill="#131722" text-anchor="start" textLength="21.8" lengthAdjust="spacingAndGlyphs">Nov</text>
<text x="858.0" y="519.9" font-size="12" fill="#131722" text-anchor="start" textLength="20.9" lengthAdjust="spacingAndGlyphs">Dec</text>
<text x="18.1" y="29.7" font-size="12" fill="#131722" text-anchor="start" textLength="74.2" lengthAdjust="spacingAndGlyphs">XAU/USD, 1D</text>
<text x="100.1" y="29.7" font-size="12" fill="#131722" text-anchor="start" textLength="7.2" lengthAdjust="spacingAndGlyphs">O</text>
<text x="108.4" y="29.7" font-size="12" fill="#f23645" text-anchor="start" textLength="43.7" lengthAdjust="spacingAndGlyphs">2655.07</text>
<text x="160.9" y="29.7" font-size="12" fill="#131722" text-anchor="start" textLength="7.0" lengthAdjust="spacingAndGlyphs">H</text>
<text x="169" y="29.7" font-size="12" fill="#f23645" text-anchor="start" textLength="43.3" lengthAdjust="spacingAndGlyphs">2655.07</text>
<text x="221" y="29.7" font-size="12" fill="#131722" text-anchor="start" textLength="4.7" lengthAdjust="spacingAndGlyphs">L</text>
<text x="226.5" y="29.7" font-size="12" fill="#f23645" text-anchor="start" textLength="44.1" lengthAdjust="spacingAndGlyphs">2621.89</text>
<text x="279" y="29.7" font-size="12" fill="#131722" text-anchor="start" textLength="6.4" lengthAdjust="spacingAndGlyphs">C</text>
<text x="286.6" y="29.7" font-size="12" fill="#f23645" text-anchor="start" textLength="43" lengthAdjust="spacingAndGlyphs">2643.96</text>
<text x="339.2" y="29.7" font-size="12" fill="#f23645" text-anchor="start" textLength="35" lengthAdjust="spacingAndGlyphs">−11.11</text>
<text x="380.3" y="29.7" font-size="12" fill="#f23645" text-anchor="start" textLength="45.7" lengthAdjust="spacingAndGlyphs">(−0.42%)</text>
<text x="18.1" y="47.6" font-size="12" fill="#131722" text-anchor="start" textLength="250.9" lengthAdjust="spacingAndGlyphs">Moving Average Triple (50, 100, 200, Simple)</text>
<text x="277.9" y="47.6" font-size="12" fill="#ff6d00" text-anchor="start" textLength="43.7" lengthAdjust="spacingAndGlyphs">2669.74</text>
<text x="330" y="47.6" font-size="12" fill="#2196f3" text-anchor="start" textLength="43" lengthAdjust="spacingAndGlyphs">2575.65</text>
<text x="381.5" y="47.6" font-size="12" fill="#26c6da" text-anchor="start" textLength="43.9" lengthAdjust="spacingAndGlyphs">2435.34</text>
<text x="18.5" y="447.3" font-size="12" fill="#131722" text-anchor="start" textLength="41" lengthAdjust="spacingAndGlyphs">RSI (14)</text>
<text x="68.8" y="447.3" font-size="12" fill="#7e57c2" text-anchor="start" textLength="29.6" lengthAdjust="spacingAndGlyphs">48.51</text>
<path d="M10.15 543.2h7.7v10.15h-3.65v-6.6h-4.05z" fill="#131722"/>
<circle cx="21.5" cy="545.45" r="2.15" fill="#131722"/>
<path d="M26.3 543.2h4.25l-4.1 10.15h-4.4z" fill="#131722"/>
<text x="36.2" y="553.6" font-size="14" fill="#131722" text-anchor="start" textLength="72.4" lengthAdjust="spacingAndGlyphs">TradingView</text>
</svg>
</body></html>
